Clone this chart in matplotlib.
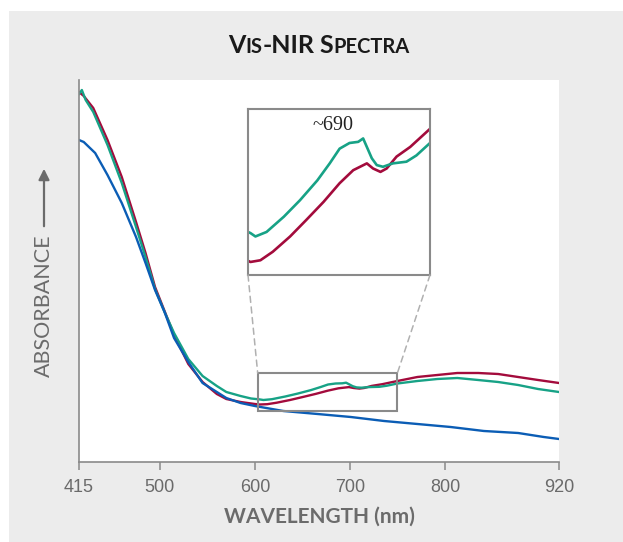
import matplotlib
matplotlib.use("Agg")
import matplotlib.pyplot as plt
from matplotlib.patches import Rectangle, ConnectionPatch

# spectra (arbitrary absorbance units)
wl_red = [415, 420, 430, 445, 460, 475, 485, 495, 505, 515, 530, 545, 560, 570, 585, 600,
          605, 613, 623, 637, 650, 664, 677, 688, 699, 704, 710, 715, 723, 734, 750,
          771, 792, 813, 835, 856, 877, 898, 920]
abs_red = [3.70, 3.66, 3.54, 3.22, 2.85, 2.40, 2.09, 1.75, 1.51, 1.27, 0.98, 0.80, 0.68, 0.63, 0.60, 0.58,
           0.575, 0.578, 0.593, 0.62, 0.649, 0.681, 0.714, 0.737, 0.749, 0.740, 0.734, 0.740, 0.761, 0.778, 0.81,
           0.85, 0.87, 0.89, 0.89, 0.88, 0.85, 0.82, 0.79]

wl_grn = [415, 418, 422, 430, 445, 460, 475, 485, 495, 505, 515, 530, 545, 560, 570, 585, 596,
          605, 609, 618, 632, 645, 659, 669, 677, 685, 692, 696, 699, 703, 707, 712, 720, 731, 739, 750,
          771, 792, 813, 835, 856, 877, 898, 920]
abs_grn = [3.68, 3.72, 3.62, 3.50, 3.17, 2.79, 2.35, 2.05, 1.73, 1.50, 1.29, 1.03, 0.86, 0.76, 0.70, 0.66, 0.635,
           0.626, 0.62, 0.628, 0.655, 0.684, 0.719, 0.749, 0.775, 0.785, 0.787, 0.793, 0.778, 0.758, 0.746, 0.743,
           0.749, 0.752, 0.763, 0.785,
           0.81, 0.83, 0.84, 0.82, 0.80, 0.77, 0.73, 0.70]

wl_blu = [415, 420, 432, 445, 460, 475, 485, 495, 505, 515, 530, 545, 560, 570, 585, 600,
          630, 666, 701, 736, 771, 806, 841, 877, 904, 920]
abs_blu = [3.22, 3.20, 3.09, 2.87, 2.59, 2.25, 1.99, 1.72, 1.50, 1.24, 1.00, 0.79, 0.70, 0.64, 0.59, 0.56,
           0.51, 0.48, 0.45, 0.41, 0.38, 0.35, 0.31, 0.29, 0.25, 0.23]

xticks = [415, 500, 600, 700, 800, 920]
zoom_x = (603, 750)
zoom_y = (0.51, 0.89)
inset_y = (0.552, 0.845)

RED = '#a30b3c'
GRN = '#17a286'
BLU = '#0b5db5'
GREY = '#8a8a8a'
TXT = '#6b6b6b'

W, H = 623, 542
fig = plt.figure(figsize=(W / 100, H / 100), dpi=100, facecolor='white')

# grey panel behind everything
fig.patches.append(Rectangle((9 / W, 0), 1, 1 - 11 / H, transform=fig.transFigure,
                             facecolor='#ececec', edgecolor='none', zorder=-10))

ax = fig.add_axes([79 / W, 1 - 462 / H, 480 / W, 382 / H])
ax.set_facecolor('white')
ax.plot(wl_red, abs_red, color=RED, lw=1.7)
ax.plot(wl_grn, abs_grn, color=GRN, lw=1.7)
ax.plot(wl_blu, abs_blu, color=BLU, lw=1.7)
ax.set_xlim(415, 920)
ax.set_ylim(0, 3.82)
ax.set_xticks(xticks)
ax.set_yticks([])
for s in ['top', 'right']:
    ax.spines[s].set_visible(False)
for s in ['left', 'bottom']:
    ax.spines[s].set_color(GREY)
    ax.spines[s].set_linewidth(1.2)
ax.tick_params(axis='x', direction='out', length=6, width=1.1, color=GREY,
               pad=6, labelsize=13, labelcolor='#6a6a6a')
for lab in ax.get_xticklabels():
    lab.set_family('Liberation Sans')

# zoom box on the main plot
ax.add_patch(Rectangle((zoom_x[0], zoom_y[0]), zoom_x[1] - zoom_x[0], zoom_y[1] - zoom_y[0],
                       fill=False, edgecolor=GREY, lw=1.5, zorder=5))

# inset
ax_in = fig.add_axes([248 / W, 1 - 275 / H, 182 / W, 166 / H])
ax_in.plot(wl_red, abs_red, color=RED, lw=1.9)
ax_in.plot(wl_grn, abs_grn, color=GRN, lw=1.9)
ax_in.set_xlim(*zoom_x)
ax_in.set_ylim(*inset_y)
ax_in.set_xticks([])
ax_in.set_yticks([])
for s in ax_in.spines.values():
    s.set_color(GREY)
    s.set_linewidth(1.5)
ax_in.text(672, 0.816, '~690', ha='center', va='center', fontsize=14.5,
           family='Liberation Serif', color='#222222')

for xa, xb in [((0, 0), (zoom_x[0], zoom_y[1])), ((1, 0), (zoom_x[1], zoom_y[1]))]:
    con = ConnectionPatch(xyA=xa, coordsA=ax_in.transAxes, xyB=xb, coordsB=ax.transData,
                          color='#b0b0b0', lw=1.1, linestyle=(0, (4, 3)))
    fig.add_artist(con)

# axis labels
fig.text(319 / W, 1 - 517 / H, 'WAVELENGTH (nm)', ha='center', va='center',
         fontsize=15, fontweight='bold', family='Lato', color=TXT)
fig.text(44 / W, 1 - 306 / H, 'ABSORBANCE', rotation=90, ha='center', va='center',
         fontsize=15.5, family='Lato', color=TXT)
ax.annotate('', xy=(44 / W, 1 - 166 / H), xytext=(44 / W, 1 - 229 / H),
            xycoords='figure fraction', textcoords='figure fraction',
            arrowprops=dict(arrowstyle='-|>', color=TXT, lw=1.6, mutation_scale=16))

# title in small caps
parts = [('V', 18), ('IS', 14.5), ('-NIR', 18), (' ', 18), ('S', 18), ('PECTRA', 14.5)]
renderer = fig.canvas.get_renderer()
texts = []
x = 0
for s, fs in parts:
    t = fig.text(0, 1 - 53 / H, s, fontsize=fs, fontweight='bold', family='Lato',
                 color='#1a1a1a', ha='left', va='baseline')
    w = t.get_window_extent(renderer).width
    if s == ' ':
        w = fs * 0.3
    texts.append((t, x))
    x += w
x0 = 319 - x / 2
for t, dx in texts:
    t.set_x((x0 + dx) / W)

fig.savefig('out.png', dpi=100, facecolor='white')
